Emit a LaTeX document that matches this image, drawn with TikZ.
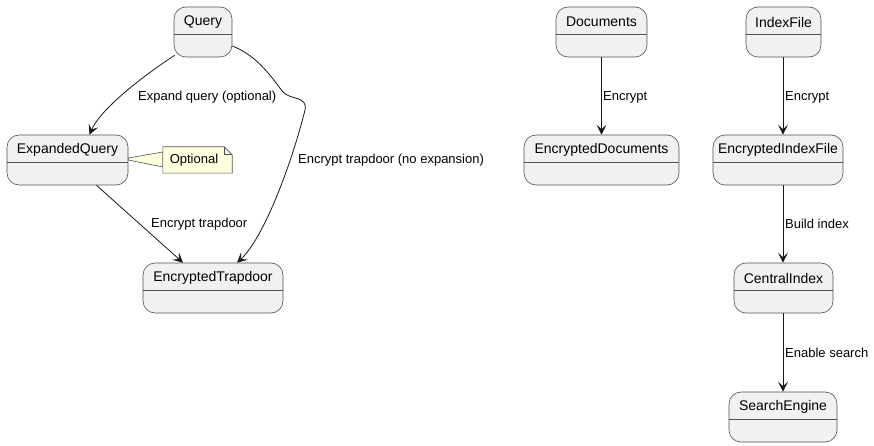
\documentclass[tikz,border=0pt]{standalone}
\usepackage{fontspec}
\setmainfont{Liberation Sans}
\usetikzlibrary{arrows.meta,calc}
\definecolor{stfill}{HTML}{F1F1F1}
\definecolor{stline}{HTML}{181818}
\definecolor{notefill}{HTML}{FEFFDD}
\tikzset{
  statebox/.style={draw=stline!75, fill=stfill, rounded corners=12, line width=0.6pt, inner sep=0, minimum height=50},
  stname/.style={font=\fontsize{14}{16}\selectfont, text=black, inner sep=0},
  lbl/.style={font=\fontsize{13}{15}\selectfont, anchor=west, inner sep=0, text=black},
  arr/.style={draw=stline, line width=0.8pt, -{Stealth[length=10pt, width=10pt, inset=4.5pt]}},
  notebox/.style={inner sep=0, minimum width=69, minimum height=26, font=\fontsize{13}{15}\selectfont}
}
\newcommand\mystate[5]{%
  \node[statebox, minimum width={#4-#2}] (#1) at ({(#2+#4)/2},{#3+25}) {};
  \draw[stline!75, line width=0.6pt] ([yshift=-2pt]#1.west) -- ([yshift=-2pt]#1.east);
  \node[stname] (#1-t) at ([yshift=10pt]#1.center) {#5};
}
\begin{document}
\begin{tikzpicture}[x=1pt,y=-1pt]
\useasboundingbox (0,0) rectangle (874,446);
\fill[white] (0,0) rectangle (874,446);

\mystate{q}{174}{7}{232}{Query}
\mystate{eq}{7}{135}{128}{ExpandedQuery}
\mystate{et}{143}{263}{283}{EncryptedTrapdoor}
\mystate{d}{556}{7}{647}{Documents}
\mystate{ed}{524}{135}{679}{EncryptedDocuments}
\mystate{i}{746}{7}{821}{IndexFile}
\mystate{ei}{713}{135}{843}{EncryptedIndexFile}
\mystate{ci}{734}{263}{833}{CentralIndex}
\mystate{se}{729}{392}{837}{SearchEngine}

% note
\node[notebox] (note) at (197.5,160) {};
\filldraw[fill=notefill, draw=stline!75, line width=0.6pt]
  ($(eq.east)+(0,-2)$) -- ($(note.west)+(0,-8)$) -- ($(note.west)+(0,7)$) -- ($(eq.east)+(0,0)$) -- cycle;
\filldraw[fill=notefill, draw=stline!75, line width=0.6pt]
  (note.north west) -- ($(note.north east)+(-8,0)$) -- ($(note.north east)+(0,8)$) -- (note.south east) -- (note.south west) -- cycle;
\draw[stline!75, line width=0.6pt] ($(note.north east)+(-8,0)$) -- ($(note.north east)+(-8,8)$) -- ($(note.north east)+(0,8)$);
\node[notebox, minimum width=0] (note-t) at ($(note.center)+(-3.5,0)$) {Optional};

% connectors
\draw[arr] ($(q.south west)+(1,-2)$) .. controls (140,78) and (100,110) .. ($(eq.north)+(22,0)$);
\node[lbl] (l1) at (138,97) {Expand query (optional)};

\draw[arr] ($(eq.south)+(29,0)$) -- ($(et.north)+(-30,0)$);
\node[lbl] (l2) at (151,224) {Encrypt trapdoor};

\draw[arr] ($(q.east)+(0,14)$) .. controls (258,56) and (272,78) .. (283,92)
  .. controls (290,100) and (308,96) .. (305,110)
  .. controls (290,170) and (262,240) .. ($(et.north)+(24,0)$);
\node[lbl] (l3) at (298,160) {Encrypt trapdoor (no expansion)};

\draw[arr] (d.south) -- (ed.north);
\node[lbl] (l4) at (603,97) {Encrypt};
\draw[arr] ($(i.south)+(-0.5,0)$) -- ($(i.south |- ei.north)+(-0.5,0)$);
\node[lbl] (l5) at (785,97) {Encrypt};
\draw[arr] ($(i.south |- ei.south)+(-0.5,0)$) -- ($(i.south |- ci.north)+(-0.5,0)$);
\node[lbl] (l6) at (785,224) {Build index};
\draw[arr] ($(i.south |- ci.south)+(-0.5,0)$) -- ($(i.south |- se.north)+(-0.5,0)$);
\node[lbl] (l7) at (785,353) {Enable search};
\end{tikzpicture}
\end{document}
